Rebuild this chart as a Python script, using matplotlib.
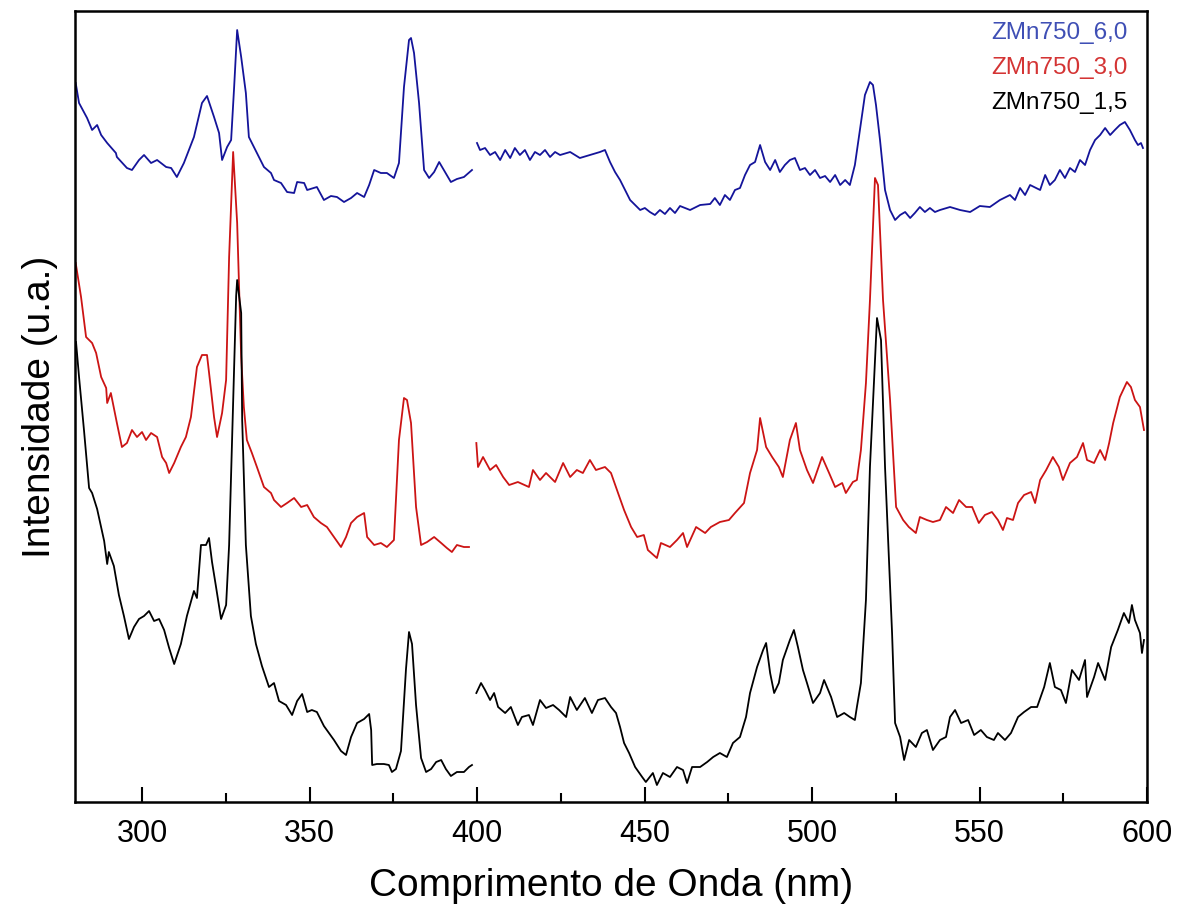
import matplotlib
matplotlib.use("Agg")
import matplotlib.pyplot as plt
from matplotlib.ticker import MultipleLocator

plt.rcParams["font.family"] = ["Liberation Sans", "DejaVu Sans"]

# === Data (arbitrary intensity units) ===
# each sample was measured in two ranges: 280-398 nm and 400-600 nm
labels = ["ZMn750_6,0", "ZMn750_3,0", "ZMn750_1,5"]

wl_blue_a = [280.2, 281.2, 283.6, 285.1, 286.6, 287.8, 289.6, 292.2, 292.5, 295.5, 297.0, 299.1,
             300.6, 302.7, 304.5, 307.2, 308.7, 310.4, 312.5, 315.5, 317.9, 319.4, 321.5, 323.0,
             323.9, 325.4, 326.6, 327.5, 328.4, 329.6, 331.0, 331.9, 333.4, 334.9, 336.4, 338.5,
             339.4, 341.5, 343.3, 345.4, 346.3, 348.4, 349.3, 352.2, 354.3, 356.4, 358.2, 360.3,
             362.4, 364.2, 366.3, 367.8, 369.3, 371.3, 373.1, 375.2, 376.7, 378.2, 379.7, 380.3,
             381.2, 382.7, 384.2, 385.7, 387.2, 388.7, 390.1, 392.2, 394.0, 396.1, 398.5]
int_blue_a = [719, 699, 684, 672, 677, 667, 659, 649, 645, 634, 632, 642,
              647, 639, 642, 635, 634, 625, 639, 665, 699, 706, 685, 669,
              642, 655, 662, 715, 772, 745, 709, 665, 655, 645, 635, 629,
              622, 619, 610, 609, 620, 619, 612, 615, 602, 606, 605, 600,
              604, 609, 605, 617, 632, 629, 629, 624, 639, 715, 762, 764,
              749, 699, 632, 624, 630, 640, 632, 620, 623, 625, 632]

wl_blue_b = [400.0, 400.9, 402.4, 403.9, 405.4, 406.9, 408.4, 409.9, 411.3, 412.8, 414.3, 415.8,
             417.3, 418.8, 420.3, 421.8, 423.3, 424.8, 427.8, 430.7, 433.7, 436.7, 438.2, 439.7,
             441.2, 442.7, 444.2, 445.7, 447.2, 448.7, 450.1, 451.6, 453.1, 454.6, 456.1, 457.6,
             459.1, 460.6, 463.6, 466.6, 469.6, 471.0, 472.5, 474.0, 475.5, 477.0, 478.5, 480.0,
             481.5, 483.0, 484.5, 486.0, 487.5, 489.0, 490.4, 491.9, 493.4, 494.9, 496.4, 497.9,
             499.4, 500.9, 502.4, 503.9, 505.4, 506.9, 508.4, 509.9, 511.3, 512.8, 514.3, 515.8,
             517.3, 518.2, 519.1, 520.3, 521.8, 523.3, 524.8, 526.3, 527.8, 529.3, 530.7, 532.2,
             533.7, 535.2, 536.7, 538.2, 541.2, 544.2, 547.2, 550.1, 553.1, 556.1, 559.1, 560.6,
             562.1, 563.6, 565.1, 568.1, 569.6, 571.0, 572.5, 574.0, 575.5, 577.0, 578.5, 580.0,
             581.5, 583.0, 584.5, 586.0, 587.5, 589.0, 590.4, 591.9, 593.4, 594.9, 596.4, 597.3,
             598.2, 598.8]
int_blue_b = [659, 652, 654, 647, 650, 642, 652, 644, 654, 647, 652, 642,
              650, 647, 652, 645, 650, 647, 650, 644, 647, 650, 652, 640,
              630, 622, 612, 602, 597, 592, 594, 590, 587, 592, 588, 594,
              589, 596, 592, 597, 598, 604, 597, 607, 602, 612, 614, 627,
              637, 640, 657, 640, 632, 642, 630, 637, 642, 644, 632, 634,
              627, 632, 624, 626, 620, 627, 617, 622, 617, 637, 672, 707,
              720, 717, 697, 662, 612, 592, 582, 587, 590, 584, 589, 595,
              590, 594, 590, 592, 595, 592, 590, 596, 595, 602, 607, 602,
              614, 607, 617, 612, 627, 617, 622, 632, 624, 634, 630, 642,
              637, 652, 662, 667, 674, 667, 672, 677, 680, 672, 662, 657,
              659, 654]

wl_red_a = [280.2, 281.8, 283.3, 285.1, 286.3, 287.8, 289.3, 289.6, 290.7, 292.5, 294.0, 295.5,
            297.0, 298.5, 300.0, 301.2, 302.7, 304.5, 306.0, 307.2, 308.1, 309.6, 311.6, 313.1,
            314.6, 316.4, 317.9, 319.4, 320.6, 321.5, 322.4, 323.9, 325.1, 326.0, 327.2, 328.4,
            329.6, 330.4, 331.3, 332.8, 334.3, 336.4, 338.5, 339.4, 341.5, 343.3, 345.4, 347.5,
            349.3, 351.3, 353.4, 355.2, 357.3, 359.4, 360.9, 362.4, 364.2, 366.3, 367.2, 369.3,
            371.3, 373.1, 375.2, 376.7, 378.2, 379.1, 380.3, 381.8, 383.3, 385.1, 387.2, 389.3,
            391.0, 392.5, 394.0, 396.1, 397.6]
int_red_a = [539, 505, 465, 459, 449, 425, 414, 399, 409, 379, 355, 359,
             372, 365, 370, 362, 369, 365, 345, 339, 329, 339, 355, 365,
             385, 435, 447, 447, 412, 385, 365, 389, 422, 545, 650, 579,
             445, 395, 362, 349, 335, 315, 309, 302, 295, 299, 304, 295,
             297, 285, 279, 275, 265, 255, 265, 279, 285, 289, 265, 257,
             259, 255, 262, 362, 404, 402, 379, 295, 257, 260, 265, 259,
             254, 250, 257, 255, 255]

wl_red_b = [399.8, 400.3, 401.8, 403.9, 405.7, 407.8, 409.6, 412.2, 415.5, 416.7, 418.8, 420.6,
            423.3, 425.7, 427.8, 429.8, 431.6, 433.7, 435.5, 438.2, 440.0, 442.1, 443.9, 446.0,
            447.8, 449.8, 451.0, 453.7, 454.9, 457.6, 459.7, 461.5, 462.7, 465.4, 468.1, 469.8,
            472.5, 475.2, 477.0, 479.7, 481.5, 483.6, 484.5, 486.3, 488.1, 490.1, 491.3, 493.4,
            495.2, 496.4, 498.5, 500.3, 503.0, 505.1, 506.9, 509.0, 510.1, 512.2, 513.4, 514.6,
            516.1, 517.3, 518.8, 519.7, 521.2, 523.3, 525.1, 527.2, 528.9, 531.0, 532.2, 534.3,
            536.1, 538.2, 540.0, 542.1, 543.9, 546.0, 547.8, 549.8, 551.6, 553.7, 555.5, 557.0,
            558.2, 560.0, 561.5, 563.3, 565.4, 566.6, 568.1, 569.9, 571.9, 573.7, 574.9, 577.0,
            579.1, 580.9, 582.1, 584.2, 586.0, 587.5, 588.7, 589.9, 591.9, 594.0, 595.2, 596.4,
            597.9, 599.1]
int_red_b = [359, 335, 345, 332, 337, 325, 317, 320, 315, 332, 322, 329,
             320, 339, 325, 332, 329, 342, 332, 335, 329, 309, 292, 275,
             265, 267, 252, 244, 259, 255, 262, 269, 255, 275, 269, 275,
             280, 282, 289, 299, 329, 352, 384, 355, 345, 335, 325, 362,
             379, 352, 332, 319, 345, 329, 315, 319, 309, 320, 322, 352,
             419, 502, 624, 617, 502, 402, 295, 282, 275, 269, 285, 282,
             280, 282, 295, 289, 302, 295, 295, 279, 287, 290, 282, 272,
             284, 282, 299, 307, 310, 299, 322, 332, 345, 335, 322, 339,
             345, 359, 342, 339, 352, 342, 359, 379, 405, 420, 415, 402,
             395, 372]

wl_black_a = [280.3, 281.2, 282.7, 284.2, 285.1, 286.6, 288.7, 289.6, 290.1, 291.6, 293.1, 294.6,
              296.1, 297.6, 299.1, 300.6, 302.1, 303.6, 305.1, 306.6, 308.1, 309.6, 311.6, 313.4,
              315.5, 316.4, 317.6, 319.1, 320.0, 320.9, 322.1, 323.6, 325.1, 326.0, 326.9, 328.1,
              328.4, 329.6, 329.9, 331.0, 332.5, 334.0, 335.8, 337.9, 339.4, 340.9, 343.0, 344.8,
              346.3, 347.8, 349.3, 350.7, 352.2, 354.3, 355.8, 357.3, 359.4, 360.9, 362.4, 364.2,
              366.3, 367.8, 368.4, 368.7, 370.1, 372.2, 373.7, 374.6, 375.8, 377.3, 378.8, 379.7,
              380.6, 381.8, 383.3, 384.8, 386.3, 387.8, 389.3, 390.7, 392.2, 394.0, 396.1, 397.6,
              398.5]
int_black_a = [460, 425, 371, 314, 309, 293, 261, 238, 250, 236, 207, 186,
               163, 175, 183, 186, 191, 181, 183, 172, 154, 138, 158, 186,
               211, 204, 257, 257, 264, 240, 215, 183, 197, 257, 364, 506,
               522, 489, 382, 257, 186, 158, 136, 115, 119, 101, 97, 87,
               101, 108, 90, 92, 90, 76, 69, 62, 51, 47, 65, 79,
               83, 88, 72, 37, 38, 38, 37, 30, 33, 51, 133, 170,
               158, 97, 44, 30, 33, 40, 42, 33, 26, 30, 30, 35,
               37]

wl_black_b = [399.8, 401.2, 402.4, 403.9, 405.1, 406.3, 408.4, 410.1, 412.2, 413.4, 415.5, 416.7,
              418.8, 420.6, 422.7, 424.5, 426.6, 427.8, 429.8, 432.2, 434.3, 436.1, 438.2, 440.0,
              441.5, 442.7, 443.9, 445.4, 447.2, 449.3, 450.4, 452.5, 453.7, 455.5, 457.6, 459.7,
              461.5, 462.7, 464.2, 466.6, 468.7, 470.5, 472.5, 474.6, 476.4, 478.5, 480.3, 481.5,
              483.6, 485.4, 486.3, 487.5, 488.7, 490.1, 491.3, 493.4, 494.6, 495.8, 497.3, 498.5,
              500.3, 502.4, 503.6, 505.7, 507.5, 509.6, 511.3, 512.8, 513.4, 514.6, 516.1, 517.3,
              519.4, 520.6, 521.8, 523.9, 524.8, 526.3, 527.5, 529.0, 531.0, 532.8, 534.3, 536.1,
              538.2, 540.0, 541.2, 542.7, 544.5, 546.6, 548.4, 550.4, 552.2, 554.3, 555.5, 557.6,
              559.4, 561.5, 563.3, 565.4, 567.2, 569.3, 571.0, 572.5, 574.3, 575.8, 577.6, 579.7,
              581.5, 582.1, 584.2, 585.4, 587.5, 589.3, 591.3, 593.1, 594.6, 595.5, 596.4, 597.9,
              598.5, 599.1]
int_black_b = [109, 119, 112, 102, 109, 95, 89, 95, 77, 85, 87, 77,
               102, 94, 97, 92, 85, 105, 92, 104, 89, 102, 104, 95,
               89, 75, 59, 49, 35, 25, 20, 29, 17, 29, 25, 35,
               32, 19, 35, 35, 40, 45, 49, 45, 59, 65, 85, 109,
               135, 152, 159, 129, 109, 119, 142, 162, 172, 155, 132, 119,
               99, 109, 122, 105, 85, 89, 85, 82, 95, 119, 202, 335,
               484, 462, 335, 169, 79, 65, 42, 62, 55, 69, 72, 52,
               62, 65, 85, 92, 79, 82, 67, 72, 65, 62, 69, 62,
               69, 85, 90, 95, 95, 115, 139, 115, 112, 99, 132, 122,
               142, 105, 125, 139, 122, 155, 172, 189, 179, 197, 182, 169,
               149, 162]

series = [
    (wl_blue_a, int_blue_a, wl_blue_b, int_blue_b, "#14149a", "#3f4fb5"),
    (wl_red_a, int_red_a, wl_red_b, int_red_b, "#cc1414", "#d43434"),
    (wl_black_a, int_black_a, wl_black_b, int_black_b, "#000000", "#000000"),
]

# === Plot ===
fig = plt.figure(figsize=(11.87, 9.17), dpi=100)
ax = fig.add_axes([0.0632, 0.1254, 0.9031, 0.8626])

for xa, ya, xb, yb, lc, tc in series:
    ax.plot(xa, ya, color=lc, lw=1.3)
    ax.plot(xb, yb, color=lc, lw=1.3)

ax.set_xlim(280, 600)
ax.set_ylim(0, 791)

ax.xaxis.set_major_locator(MultipleLocator(50))
ax.xaxis.set_minor_locator(MultipleLocator(25))
ax.tick_params(axis="x", which="major", direction="in", length=11, width=1.5,
               labelsize=22, pad=12, top=False)
ax.tick_params(axis="x", which="minor", direction="in", length=6.5, width=1.5, top=False)
ax.set_yticks([])
for s in ax.spines.values():
    s.set_linewidth(1.8)

ax.set_xlabel("Comprimento de Onda (nm)", fontsize=28, labelpad=14)
ax.set_ylabel("Intensidade (u.a.)", fontsize=28, labelpad=12)

# legend written as coloured text, top right
for i, (lab, s) in enumerate(zip(labels, series)):
    ax.text(0.982, 0.972 - i * 0.044, lab, transform=ax.transAxes, ha="right", va="center",
            fontsize=17.5, color=s[5])

fig.savefig("out.png", dpi=100)
